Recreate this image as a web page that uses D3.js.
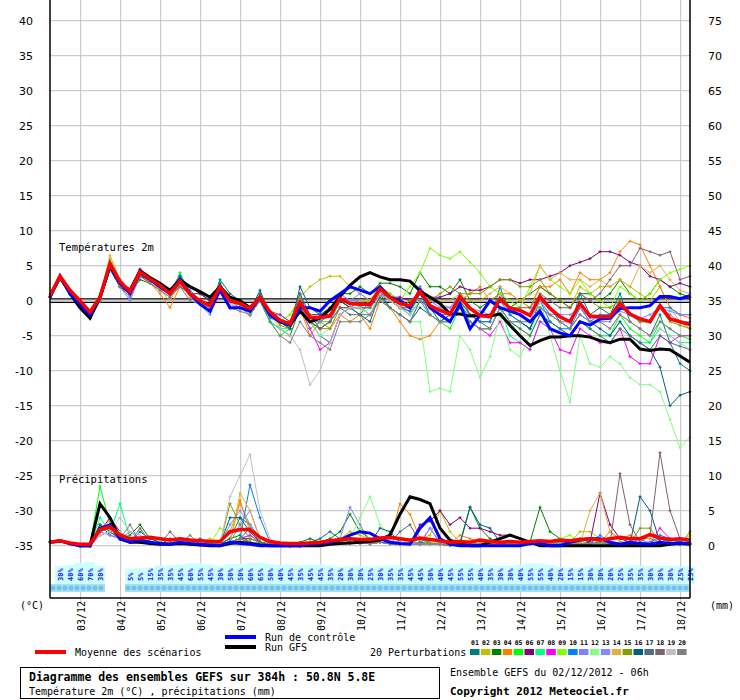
<!DOCTYPE html>
<html><head><meta charset="utf-8">
<script src="https://cdn.jsdelivr.net/npm/d3@7"></script>
<style>body{margin:0;background:#fff}svg{display:block}</style>
</head><body><svg id="c" width="740" height="700"></svg>
<script>
const dayLabels=["03/12","04/12","05/12","06/12","07/12","08/12","09/12","10/12","11/12","12/12","13/12","14/12","15/12","16/12","17/12","18/12"];
const leftTicks=[40,35,30,25,20,15,10,5,0,-5,-10,-15,-20,-25,-30,-35];
const rightTicks=[75,70,65,60,55,50,45,40,35,30,25,20,15,10,5,0];
const pertColors=["#008080","#c0c000","#008000","#ff8000","#00ff00","#800080","#00ff80","#ff00ff","#80ff00","#0080ff","#8080ff","#80ff80","#8888ff","#e0b040","#80a000","#006080","#507080","#806070","#c0c0c0","#808080"];
const meanT=[0.7,3.5,1.5,0,-1.6,0.5,5.3,2.7,1.3,4.1,3.1,2.2,1,2.8,1,0,-0.7,2,0,-0.4,-1.1,0.5,-1.6,-2.8,-3.3,-0.2,-2.4,-2.4,-2.2,0.3,-0.4,-0.5,-0.5,1.7,0.5,-0.4,-0.7,1.3,-0.7,-1.4,-1.9,0.6,-1.1,-2.1,-2.3,0.3,-1.1,-1.4,-2.1,0.6,-1.1,-2.3,-3,-0.4,-2.2,-2.3,-2.3,-0.4,-1.9,-2.6,-3,-0.7,-2.6,-3,-3.4];
const ctrlT=[0.5,3.5,1,-0.5,-2,0.5,5,2.5,1,4,3,2,1,3,1,-0.5,-1.5,1.5,-1,-1,-1.5,0.5,-2,-3,-3.5,-1,-1,-1.5,0,1,2,1.5,1,2,0.5,0,-1,1.5,-1,-2,-3,-0.5,-4,-2.1,0,-1,-1.5,-2,-3,-1.5,-4,-4.6,-5,-3,-3.5,-2.6,-2.5,-1.1,-1,-1,-0.7,0.6,0.6,0.3,0.7];
const gfsT=[0.5,3.5,1,-1,-2.5,0.5,5,2.5,1.5,4.3,3.3,2.5,1.5,3,2,1.3,0.5,2,0.5,0,-1,0.5,-2,-3,-3.5,-1.5,-3,-2.5,-1.2,0.6,2.2,3.4,4,3.4,3,3,2.8,1.4,0.5,-0.4,-1.9,-1.9,-2.2,-2.1,-2.2,-1.9,-3.5,-5,-6.4,-5.7,-5.2,-5.2,-5,-5,-5.2,-5.7,-6,-5.5,-5.5,-6.9,-7.1,-6.9,-7,-7.9,-8.8];
const pertT=[
[0.5,3,1,0,-2.5,0.5,4.5,2,1,3.5,3,2,1,3.5,1,0,-1,3,1,0,-1.5,1,-2,-3,-4,1,-3,-5,-6,-2,-1,-2,0,2,1,0,-1,2,-1,-3,-2,1,-2,-3,-3,2,-2,-3,-4,0,-1,-3,-4,1,-2,-1,-2,1,-3,-4,-5,-2,-6,-9,-10],
[0.5,3,1,-0.5,-2,0.5,5,2.5,1.5,4,3,2,1,2.5,1,0,-1,2,0,0,-1,0.5,-2,-3,-2,0.5,2,3,3.5,3.5,2,1,0,2,1,0,-1,1,-1,-1,-2,0,-1,-2,-2,0,-1,0,-1,2,1,0,-1,2,1,2,2,3,2,1,0,2,-1,-3,-4],
[0.5,3,1,-0.5,-2,0,4.5,2,1,3,2.5,1.5,1.5,2.5,2,1,0,2,-1,-1,-2,0,-3,-4,-5,-1,-3,-4,-3,1,1,2,1,2.5,2.5,2,1,4,2,2,1,3,0,-1,0,1,-1,0,1,2,1,0,-1,1,1,0,1,3,1,0,1,3,2,1,0.5],
[0.5,3,1.5,0,-1.5,0.5,6,3,1.5,4,2.5,1,-1,2,1,0,-1,1.5,-1,-1,-2,0,-2,-3,-4,-1,-5,-3,-4,-2,-3,-2,-4,0,-1,-3,-5,-5.5,-5,-3,-2,0,1,2,0,1,1,0,-1,2,2,3,1,4,3,3,4,7,8.5,8,5,2,-1,-2,-2.5],
[0.5,3,1,0,-2,1,5.5,3,1.5,4.5,3,2,1,4,1,0,-1,2,0,-1,-2,0,-3,-5,-4,-1,-4,-3,-3,0,-1,-1,0,1.5,0.5,-1,-2,0,-2,-3,-4,-1,-3,-4,-4,-1,-3,-4,-5,-2,-3,-4,-5,-3,-4,-5,-5,-2,-4,-5,-6,-3,-4,-5,-5.5],
[0.5,3,1,-0.5,-2,0.5,5,3,1.5,4,3,2,1,2.5,1,1,0,2,-1,-1,-2,0,-2,-3,-3,-1,-2,-2,-2,0,-1,0,0,1,0.5,0.5,0,1,0.5,0.5,1,2,1.5,1.5,2,3,3,2.5,3,3,3.5,4,5,5.5,6,7,7,6.5,5.5,5,3.5,3,2,2.5,2],
[0.5,3,1,-0.5,-2,0,5,2.5,1,4.5,3,2,1.5,3,1,-0.5,-1,2.5,0,-0.5,-2,0,-3,-4,-4,0,-2,-3,-2,0,0,-1,-1,2,0,-1,-2,1,-2,-3,-3,0,-3,-4,-4,-1,-5,-6,-7,-3,-3,-4,-5,-3,-4,-5,-5,-3,-5,-6,-6,-4,-5,-6,-6],
[0.5,3,1,0,-2,0.5,5,2.5,1.5,4.5,3,2,1,2.5,1,0,-1,1.5,-0.5,-1,-1.5,0,-2,-2,-3,-1,-4,-7,-6,-2,-1,-1,-1,1,0,-1,-1.5,1,-1,-2,-3,-1,-3,-4,-5,-3,-6,-6,-7,-3,-4,-7,-7.5,-4,-5,-6,-6,-4,-8,-9,-9,-5,-6,-5,-5],
[0.5,3,1,-0.5,-2,0.5,6,2.5,1,4,3,2,1,2.5,1,0,-1,1.5,-0.5,0,-1,0.5,-2,-3,-2,0,-2,-3,-1,0,0,0,0,2,1,0,2,4,7.5,6.5,6,7,5.5,4,2,1,0,-1,2,5,3,2,1,3,1,0,-1,2,1,0,1,3,4,4.5,5],
[0.5,3,1,0,-2,0.5,5,2.5,1,4,3,2,1.5,3.5,1.5,0,-1.5,1.5,-1,-1,-2,0,-2.5,-3,-4,-0.5,-3,-3,-2,0,-0.5,0,-1,1.5,0,-1,-1.5,1,-2,-3,-2,0,-2,-3,-3,0,-2,-3,-4,0,-3,-4,-4,-1,-3,-2,-2,0,-2,-3,-3,-1,-1,-2,-2],
[0.5,3,1,0,-2,0,4.5,2,0.5,3.5,3,2,1,3,1,0,-1,2,0,-1,-2,0,-2,-3,-3,-1,-3,-3,-2,1,0,0,-1,2,0,-1,-1,2,0,-1,-1,1,-1,-2,-2,0,-1,-2,-3,0,-2,-3,-3,-1,-3,-3,-3,-1,-2,-3,-3,-1,-2,-3,-3],
[0.5,3,1,0,-2,0.5,5,2.5,1,3.5,2.5,2,1,2.5,1,0,-1,1.5,-0.5,-1,-2,0,-2,-3,-4,-1,-3,-5,-4,-1,-1,-2,-1,0,-1,-2,-3,-3,-13,-12.5,-13,-5,-7,-11,-8,-2,-7,-8,-5,0,-5,-10,-14.5,-5,-9,-9.5,-8,-9,-11,-12,-12,-13,-17,-21,-19.5],
[0.5,3,1,0,-2.5,0,4.5,2,0,3.5,2.5,1.5,0.5,2.5,0.5,-0.5,-2,1.5,-1,-1,-1.5,0.5,-2,-3,-3.5,-1,-3,-4,-3,0,0,1,0,1.5,0.5,-0.5,-1,1.5,0,-0.5,-1,0.5,-1,-1.5,-2,0,-1,-1.5,-2,0,-2,-2,-2,-1,-2.5,-2.5,-2.5,-1.5,-2,-2.5,-2,-1,-1.5,-2,-2],
[0.5,3,1.5,0,-1.5,0.5,6.5,3,1.5,4,3,1.5,0,2.5,0.5,0,-1,1.5,-0.5,-1,-1.5,0,-2,-3,-3,0,-3,-4,-3,-1,-1,0,0,1,0,-1,-1,1,0,0,0,1,0,0,1,2,1,0,1,5,3,4,3,3,2,3,2,3,2,5,4,5,3,1.5,1],
[0.5,3,1,-0.5,-2,0.5,5,2.5,1.5,4,3,2,1,2,1,0,-1,1.5,-1,-1,-2,0,-2,-3.5,-4,-1,-3,-4,-4,-1,-1,-1,-2,1,0,-1,0,1,0,1,2,1,1,1,2,3,3,2,2,3,1,0,-1,1,0,-1,-1,0,-2,-3,-3,-1,-3,-3.5,-4],
[0.5,3,1,-0.5,-2.5,0,4.5,2,1,3.5,3,2,1,3.5,1,0,-1,2.5,0,-0.5,-1.5,1.5,-2,-3,-4,2,-1,-2,-1,0,-1,-2,-3,1,-1,-2,-3,-1,-2,-3,-3,-1,-3,-4,-4,-1,-3,-3,-4,-1,-2,-3,-4,-2,-3,-4,-5,-3,-5,-6,-7,-9.5,-15,-13.5,-13],
[0.5,3,1,-0.5,-2,0,5,2.5,1.5,4,3,2,1,2,1,0,-0.5,2,0,-0.5,-1,0.5,-1.5,-2,-3,1,-2,-4,-3,-1,-2,-2,-2,0.5,-1,-2,-3,0,-1,-2,-3,-1,-2,-3,-4,-1,-3,-4,-5,-2,-3,-4,-5,-3,-4,-5,-6,-4,-5,-6,-7,-5,-6,-6.5,-7],
[0.5,3,1,-0.5,-2,0.5,5,2.5,1,4,3,2,1,3,1,0,-1,2,0,-0.5,-1,0.5,-2,-3,-3,-1,-3,-4,-3,-1,-1,-1,-1,1,0,-1,-1,1,-1,-2,-2,0,-2,-2,-2,0,-1,-1,-1,1,0,-1,-1,1,0,1,3,5,5,7.5,7,6.5,7,3,3.5],
[0.5,3,1,0,-2,0,5,2.5,1,4,3,2,1,2.5,1,0,-1,2,-0.5,-1,-2,0,-2,-4,-5,-7,-12,-10,-6,-2,-1,-1,-2,1,0,-1,-2,0,-2,-3,-3,-1,-3,-4,-4,-1,-3,-3,-3,-1,-2,-3,-4,-2,-3,-3,-4,-2,-3,-4,-5,-4,-5,-6,-7],
[0.5,3,1,0,-2,0,5,2,0.5,3.5,2.5,1.5,0.5,2,0,-0.5,-1.5,1.5,-1,-1.5,-2,0,-3,-5,-6,-3,-5,-6,-7,-3,-3,-3,-2,0,-1,-2,-3,0,-2,-3,-3,-1,-3,-4,-4,-1,-3,-3,-3,-1,-2,-3,-4,-2,-3,-3,-4,-2,-3,-4,-5,-3,-4,-5,-5]
];
const meanP=[0.5,0.7,0.4,0.2,0.2,2.3,2.7,1.5,1,1.1,1.2,1,0.8,1,0.8,0.7,0.6,0.6,2,2.3,2.3,1.2,0.6,0.4,0.3,0.3,0.4,0.5,0.7,0.9,1,0.9,0.9,1.1,1.2,1,0.8,1.1,0.9,0.7,0.5,0.6,0.5,0.8,0.6,0.5,0.6,0.5,0.6,0.7,0.6,0.8,0.7,0.9,1,0.8,1,1.2,1,1,1.6,1.1,0.9,1,0.8];
const ctrlP=[0.5,0.7,0.3,0,0,2.5,3,1,0.5,0.8,0.5,0.3,0.2,0.5,0.3,0.2,0.1,0,0.5,0.3,0.2,0,0,0,0,0,0.2,0.3,0.5,0.8,1.5,2,1.8,1,0.5,0.3,0.2,2.5,4,1,0.2,0,0,0,0,0,0,0,0.3,0.3,0,0,0.5,0.8,1,1,0.5,0.2,0.5,0.3,0.2,0.5,0.3,0.4,0.3];
const gfsP=[0.5,0.7,0.3,0,0,6,4,1,0.5,0.5,0.3,0.2,0.2,0.3,0.2,0.1,0,0,0.3,0.5,0.3,0.1,0,0,0,0,0,0,0.2,0.3,0.4,0.5,0.6,0.8,1.5,4.5,7,6.6,6,2.5,0.8,0.3,0,0,0.5,1,1.5,1,0.5,0,0,0,0,0,0,0,0,0,0,0,0,0,0.2,0.3,0.2];
const pertP=[
[0.5,0.7,0.3,0,0,3,2,1,0.5,2,1,0.5,0.3,1,0.5,1,0.5,0.3,1,4,3,1,0.3,0.2,0,0,0.5,1,2,1,0.5,0.3,0.5,1,1.5,0.5,0.3,1,0.5,0.2,0,0.3,0.5,0,0.2,0.5,0.3,0.2,0.5,0.3,0.2,0.5,0.3,0.5,1,0.5,0.3,0.5,0.3,0.5,0.5,1,0.5,0.5,0.3],
[0.5,0.7,0.3,0,0,2,2.5,1.5,0.5,1,0.5,0.3,0.5,0.5,0.3,0.5,1,0.5,2,6,3,1,0.5,0.3,0.2,0,0.2,0.3,0.5,1,2,1.5,1,0.5,0.3,0.2,0.5,1,1.5,5,2,0.5,0.3,0.2,0.3,0.2,0.5,0.3,0.2,0.5,0.3,0.2,0.5,2,2,1,0.5,0.3,0.5,0.2,0.3,0.5,0.3,0.5,1.5],
[0.5,0.7,0.3,0,0,3,1.5,1,1.5,3,1,0.5,0.3,0.5,0.3,0.2,0.3,0.2,1,1.5,0.5,0.3,0.2,0.1,0,0.5,1,0.5,1,2,4.5,2,1,0.5,0.3,0.5,0.3,0.2,0.3,0.2,0.3,0.5,5.5,2.5,1,0.2,0.1,0.3,0.5,5.5,2,1,0.5,0.3,0.5,0.3,0.2,0.5,0.5,0.3,0.2,0.3,0.5,0.3,0.2],
[0.5,0.7,0.3,0,0,2.5,3,1,0.5,1,0.5,0.3,0.2,0.5,0.3,0.2,0.1,0.2,0.5,6.5,2,0.5,0.2,0.1,0,0,0.2,0.3,0.5,0.5,1,0.5,0.3,0.5,1,6,4.5,1,0.3,0.2,0.3,1.5,1,0.5,0.3,0.2,0.1,0.2,0.3,0.2,0.3,0.5,0.3,0.5,1,0.5,2,1,1.5,1,1,0.5,0.3,0.5,0.3],
[0.5,0.7,0.3,0,0,8.5,3,1,0.5,1,0.5,0.3,0.2,0.5,0.3,0.2,0.1,0.2,0.5,1,1.5,0.5,0.3,0.1,0,0,0.2,0.3,0.5,0.8,1,0.5,0.3,0.5,0.3,0.2,0.3,0.2,0.3,0.2,0.1,0.2,0.3,0.2,0.3,0.2,0.1,0.2,0.3,0.2,0.3,0.5,0.3,0.2,0.3,0.5,0.3,0.2,0.3,0.2,0.3,0.5,0.3,0.2,0.3],
[0.5,0.7,0.3,0,0,2,4,2,0.5,1,0.5,0.3,0.2,0.5,0.3,0.2,0.1,0.2,0.5,1,1,0.5,0.2,0.1,0,0,0.2,0.3,0.5,0.8,1,0.5,0.3,0.5,0.3,0.2,0.3,3,3.5,5,3,4,2.5,2.5,2,1.5,1.5,1,0.5,0.3,0.5,0.3,0.5,1,0.5,7.5,3,1,0.5,0.3,0.2,0.3,0.2,0.3,0.2],
[0.5,0.7,0.3,0,0,4,2,6,1,1,0.5,0.3,0.2,0.5,0.3,0.2,0.1,0.2,0.5,1,0.5,0.3,0.2,0.1,0,0,0.2,0.3,0.5,0.5,1,0.5,0.3,0.5,0.3,0.2,0.3,0.5,1,0.3,0.2,0.1,0.2,0.3,0.2,0.3,0.2,0.1,0.2,0.3,0.2,0.3,0.5,0.3,0.2,0.3,0.5,0.3,0.2,0.3,0.2,0.3,0.5,0.3,0.2],
[0.5,0.7,0.3,0,0,1.5,2,1,0.5,0.5,0.3,0.2,0.2,0.3,0.2,0.1,0.1,0.2,0.5,1,1.5,0.5,0.2,0.1,0,0,0.2,0.3,0.5,0.5,0.3,0.5,0.3,0.5,0.3,0.2,0.3,0.2,0.3,0.2,0.1,0.2,0.3,0.2,0.3,0.2,0.1,0.2,0.3,0.2,0.3,0.5,0.3,0.2,0.3,0.5,0.3,0.2,0.3,0.2,0.3,2.5,1,0.5,0.3],
[0.5,0.7,0.3,0,0,2,3,1,0.5,0.5,0.3,0.5,0.3,0.5,0.5,0.3,0.3,2.5,2,0.5,0.5,0.3,0.2,0.1,0,0,0.2,0.3,0.5,0.5,1,2.5,1,0.5,0.3,0.2,0.3,0.2,0.5,0.3,0.2,0.3,0.5,0.3,0.2,0.3,0.5,0.3,0.2,0.5,0.3,1,1.5,0.5,1,0.5,0.3,0.5,0.3,0.2,0.3,0.5,0.3,0.2,1],
[0.5,0.7,0.3,0,0,2,2.5,1.5,0.5,0.5,0.3,0.2,0.2,0.3,0.2,0.1,0.1,0.2,0.5,1,8.7,4,0.5,0.1,0,0,0.2,0.3,0.5,0.5,1,0.5,0.3,0.5,0.3,0.2,0.3,0.2,0.3,0.2,0.1,0.2,0.3,0.2,0.3,0.2,0.1,0.2,0.3,0.2,0.3,0.5,0.3,0.2,0.3,1.5,0.5,0.2,0.3,0.2,0.3,1.5,1,0.5,0.3],
[0.5,0.7,0.3,0,0,1.5,2,1,0.5,0.5,0.3,0.2,0.2,0.3,0.2,0.1,0.1,0.2,0.5,3,5,1,0.5,0.1,0,0,0.2,0.3,0.5,1,5.5,3,0.5,0.5,0.3,0.2,0.3,0.5,2.5,0.5,0.1,0.2,0.3,0.2,0.3,0.2,0.1,0.2,0.3,0.2,0.3,0.5,0.3,0.2,0.3,0.5,0.3,0.2,0.3,1,0.3,0.5,0.3,0.2,0.3],
[0.5,0.7,0.3,0,0,2,2.5,2,1,0.5,0.3,0.2,0.2,0.3,0.2,0.1,0.1,0.2,0.5,1,0.5,0.3,0.2,0.1,0,0,0.2,0.3,0.5,0.5,1,4,7,3,1.5,0.5,0.3,0.2,0.3,0.2,0.1,0.2,0.3,0.2,0.3,0.2,0.1,0.2,0.3,0.2,0.3,0.5,0.3,0.2,0.3,0.5,0.3,0.2,0.3,0.2,0.3,0.5,0.3,0.2,0.3],
[0.5,0.7,0.3,0,0,2,1.5,1,2,1,0.5,0.3,0.2,0.5,0.3,0.2,0.1,0.2,3,5,3,1,0.3,0.1,0,0,0.2,0.3,0.5,0.5,1,0.5,0.3,0.5,0.3,0.2,0.3,0.2,2.5,0.3,0.1,0.2,0.3,0.2,0.3,0.2,0.1,0.2,0.3,0.2,0.3,0.5,0.3,0.2,0.3,0.5,0.3,0.2,0.3,0.2,0.3,0.5,0.3,0.2,0.3],
[0.5,0.7,0.3,0,0,2.5,3.5,1,0.5,0.5,0.3,0.2,0.2,0.3,0.2,0.1,0.1,0.2,0.5,7.5,5,1,0.2,0.1,0,0,0.2,0.3,0.5,0.5,1,0.5,0.3,0.5,0.3,0.2,0.3,0.2,0.3,0.2,0.1,0.2,0.3,0.2,0.3,0.2,0.1,0.2,0.3,0.2,0.3,0.5,0.3,0.2,5,7.5,2,0.5,0.3,0.2,0.3,0.5,0.3,0.2,0.3],
[0.5,0.7,0.3,0,0,2,2.5,1,0.5,0.5,0.3,0.2,0.2,0.3,0.2,0.1,0.1,0.2,6,3,1,0.5,0.2,0.1,0,0,0.2,0.3,0.5,0.5,1,0.5,0.3,0.5,0.3,0.2,0.5,1,0.3,0.2,0.1,0.2,0.3,0.2,0.3,0.2,0.1,0.2,0.3,0.2,0.3,0.5,0.3,0.2,0.3,0.5,0.3,0.2,0.3,2.5,2.5,0.5,0.3,0.2,2],
[0.5,0.7,0.3,0,0,2.5,3,1.5,0.5,0.5,0.3,0.2,1,0.5,0.3,0.2,0.1,0.2,4,4,2,0.5,0.2,0.1,0,0,0.2,0.3,0.5,0.5,1,0.5,0.3,2.5,2,0.5,0.3,0.2,0.3,0.2,0.1,0.2,5.5,3,2.5,0.5,0.1,0.2,0.3,0.2,0.3,0.5,0.3,0.2,0.3,0.5,0.3,0.2,0.3,7,5,0.5,0.3,0.2,0.3],
[0.5,0.7,0.3,0,0,3,2,1,0.5,0.5,0.3,0.2,0.2,0.3,0.2,0.1,0.1,0.2,0.5,1,2.5,0.5,0.2,0.1,0,0,0.2,0.3,0.5,0.5,1,0.5,0.3,0.5,0.3,2,3,0.5,0.3,0.2,0.1,0.2,0.3,0.2,0.3,0.2,0.1,0.2,0.3,0.2,0.3,0.5,0.3,0.2,0.3,0.5,0.3,0.2,0.3,0.2,0.3,0.5,0.3,0.2,0.3],
[0.5,0.7,0.3,0,0,2,3,1,0.5,2.5,0.5,0.3,2,0.5,0.3,0.2,0.1,0.2,0.5,1,0.5,0.3,0.2,0.1,0,0,0.2,0.3,0.5,0.5,1,0.5,0.3,0.5,0.3,0.2,0.3,0.2,0.3,0.2,0.1,0.2,0.3,0.2,0.3,0.2,0.1,0.2,0.3,0.2,0.3,0.5,0.3,0.2,0.3,0.5,0.3,10.3,3,0.5,1.5,13.3,5,1,0.5],
[0.5,0.7,0.3,0,0,1.5,2,4,2,1.5,0.5,0.3,0.2,0.3,0.2,0.1,0.1,0.2,7,10,13,5,1,0.3,0,0,0.2,0.3,0.5,0.5,1,0.5,0.3,0.5,0.8,0.5,0.3,0.2,0.3,0.2,0.1,0.2,0.3,0.2,0.3,0.2,0.1,0.2,0.3,0.2,0.3,0.5,0.3,0.2,0.3,0.5,0.3,0.2,0.3,0.2,0.3,0.5,0.3,0.2,0.3],
[0.5,0.7,0.3,0,0,2,2.5,1,3,0.5,0.3,0.2,0.2,0.3,1.5,0.1,0.1,0.2,0.5,1,0.5,0.3,0.2,0.1,0,0,0.2,0.3,0.5,0.5,1,0.5,0.3,0.5,0.3,0.2,0.3,0.2,0.3,0.2,0.1,0.2,0.3,0.2,0.3,0.2,0.1,0.2,0.3,0.2,0.3,0.5,0.3,0.2,0.3,0.5,0.3,0.2,0.3,0.2,0.3,0.5,0.3,0.2,0.3]
];
const pctSteps=d3.range(1,6).concat(d3.range(8,65));
const pctVals=[30,40,60,70,30,5,5,15,35,35,45,60,55,45,30,50,50,60,65,50,40,45,35,45,45,35,20,30,30,25,30,35,35,45,45,50,40,45,55,55,40,35,30,30,40,55,55,40,20,15,15,30,30,20,25,35,35,30,30,30,25,25];

const svg=d3.select("#c");
const font="DejaVu Sans Mono, monospace";
const x=d3.scaleLinear().domain([0,64]).range([50,690]);
const y=d3.scaleLinear().domain([-35,40]).range([545.7,20.7]);
const yr=d3.scaleLinear().domain([0,75]).range([545.7,20.7]);
const dx=d=>50+40*d+30.7;

// grid
svg.append("g").selectAll("line").data(leftTicks).join("line")
 .attr("x1",50).attr("x2",690).attr("y1",d=>y(d)).attr("y2",d=>y(d)).attr("stroke","#c0c0c0");
svg.append("g").selectAll("line").data(dayLabels).join("line")
 .attr("x1",(d,i)=>dx(i)).attr("x2",(d,i)=>dx(i)).attr("y1",0).attr("y2",604).attr("stroke","#c0c0c0");
[0.25,-0.25].forEach(v=>svg.append("line").attr("x1",50).attr("x2",690).attr("y1",y(v)).attr("y2",y(v)).attr("stroke","#000").attr("stroke-width",1.3));

svg.append("g").selectAll("text").data(leftTicks).join("text").attr("x",33).attr("y",d=>y(d)+4)
 .attr("text-anchor","end").attr("font-family","DejaVu Sans, sans-serif").attr("font-size",11).text(d=>d);
svg.append("g").selectAll("text").data(rightTicks).join("text").attr("x",708).attr("y",d=>yr(d)+4)
 .attr("font-family","DejaVu Sans, sans-serif").attr("font-size",11).text(d=>d);

svg.append("text").attr("x",59).attr("y",251).attr("font-family",font).attr("font-size",10.5).text("Températures 2m");
svg.append("text").attr("x",59).attr("y",483).attr("font-family",font).attr("font-size",10.5).text("Précipitations");

// percentage row
const pg=svg.append("g");
pg.selectAll("rect").data(pctSteps).join("rect")
 .attr("x",d=>x(d)-5).attr("width",10)
 .attr("y",(d,i)=>584-(15+pctVals[i]*0.1)).attr("height",(d,i)=>15+pctVals[i]*0.1).attr("fill","#ccffff");
[[50,105],[125,690]].forEach(b=>{
  svg.append("rect").attr("x",b[0]).attr("y",584).attr("width",b[1]-b[0]).attr("height",8).attr("fill","#a8e0f0");
  for(let xx=b[0]+3;xx<b[1];xx+=6){
    svg.append("circle").attr("cx",xx).attr("cy",588).attr("r",2.5).attr("fill","#6ec4ea");
  }
});
pg.selectAll("text").data(pctSteps).join("text")
 .attr("transform",(d,i)=>`translate(${x(d)+2.5},581) rotate(-90)`)
 .attr("font-family",font).attr("font-size",7).attr("font-weight","bold").attr("fill","#2020ff")
 .text((d,i)=>pctVals[i]+"%");

function drawT(arr,color,w,marks){
  const ln=d3.line().x((d,i)=>x(i)).y(d=>y(d));
  svg.append("path").attr("d",ln(arr)).attr("fill","none").attr("stroke",color).attr("stroke-width",w);
  if(marks){
    svg.append("g").selectAll("path").data(arr).join("path")
     .attr("d",(d,i)=>`M${x(i)-1.5},${y(d)}h3M${x(i)},${y(d)-1.5}v3`).attr("stroke",color).attr("stroke-width",1);
  }
}
function drawP(arr,color,w,marks){ drawT(arr.map(v=>v-35),color,w,marks); }
pertP.forEach((a,k)=>drawP(a,pertColors[k],1,true));
drawP(gfsP,"#000",3,false);
drawP(ctrlP,"#0000ff",3,false);
drawP(meanP,"#ff0000",3.5,false);
pertT.forEach((a,k)=>drawT(a,pertColors[k],1,true));
drawT(gfsT,"#000",3,false);
drawT(ctrlT,"#0000ff",3,false);
drawT(meanT,"#ff0000",3.5,false);

svg.append("line").attr("x1",50).attr("x2",50).attr("y1",0).attr("y2",598).attr("stroke","#000").attr("stroke-width",1.5);
svg.append("line").attr("x1",690).attr("x2",690).attr("y1",0).attr("y2",598).attr("stroke","#000").attr("stroke-width",1.5);
svg.append("line").attr("x1",50).attr("x2",690).attr("y1",598).attr("y2",598).attr("stroke","#000").attr("stroke-width",1.5);

svg.append("g").selectAll("text").data(dayLabels).join("text")
 .attr("transform",(d,i)=>`translate(${dx(i)+4.5},631) rotate(-90)`)
 .attr("font-family",font).attr("font-size",10).text(d=>d);
svg.append("text").attr("x",20).attr("y",609).attr("font-family",font).attr("font-size",10).text("(°C)");
svg.append("text").attr("x",710).attr("y",609).attr("font-family",font).attr("font-size",10).text("(mm)");

svg.append("line").attr("x1",35).attr("x2",66).attr("y1",652).attr("y2",652).attr("stroke","#ff0000").attr("stroke-width",4);
svg.append("text").attr("x",75).attr("y",656).attr("font-family",font).attr("font-size",10).text("Moyenne des scénarios");
svg.append("line").attr("x1",225).attr("x2",256).attr("y1",637).attr("y2",637).attr("stroke","#0000ff").attr("stroke-width",4);
svg.append("text").attr("x",265).attr("y",641).attr("font-family",font).attr("font-size",10).text("Run de contrôle");
svg.append("line").attr("x1",225).attr("x2",256).attr("y1",647).attr("y2",647).attr("stroke","#000").attr("stroke-width",4);
svg.append("text").attr("x",265).attr("y",651).attr("font-family",font).attr("font-size",10).text("Run GFS");
svg.append("text").attr("x",370).attr("y",656).attr("font-family",font).attr("font-size",10).text("20 Perturbations");
const lg=svg.append("g");
lg.selectAll("rect").data(pertColors).join("rect").attr("x",(d,i)=>470+i*10.9).attr("y",649).attr("width",9.5).attr("height",6).attr("fill",d=>d);
lg.selectAll("text").data(pertColors).join("text").attr("x",(d,i)=>475+i*10.9).attr("y",645).attr("text-anchor","middle")
 .attr("font-family",font).attr("font-size",6.5).attr("font-weight","bold").text((d,i)=>String(i+1).padStart(2,"0"));

svg.append("rect").attr("x",20.5).attr("y",667.5).attr("width",419).attr("height",31).attr("fill","none").attr("stroke","#000");
svg.append("text").attr("x",29).attr("y",681).attr("font-family",font).attr("font-size",11.5).attr("font-weight","bold").text("Diagramme des ensembles GEFS sur 384h : 50.8N 5.8E");
svg.append("text").attr("x",29).attr("y",695).attr("font-family",font).attr("font-size",10).text("Température 2m (°C) , précipitations (mm)");
svg.append("text").attr("x",450).attr("y",676).attr("font-family",font).attr("font-size",10).text("Ensemble GEFS du 02/12/2012 - 06h");
svg.append("text").attr("x",450).attr("y",695).attr("font-family",font).attr("font-size",11).attr("font-weight","bold").text("Copyright 2012 Meteociel.fr");
</script></body></html>
